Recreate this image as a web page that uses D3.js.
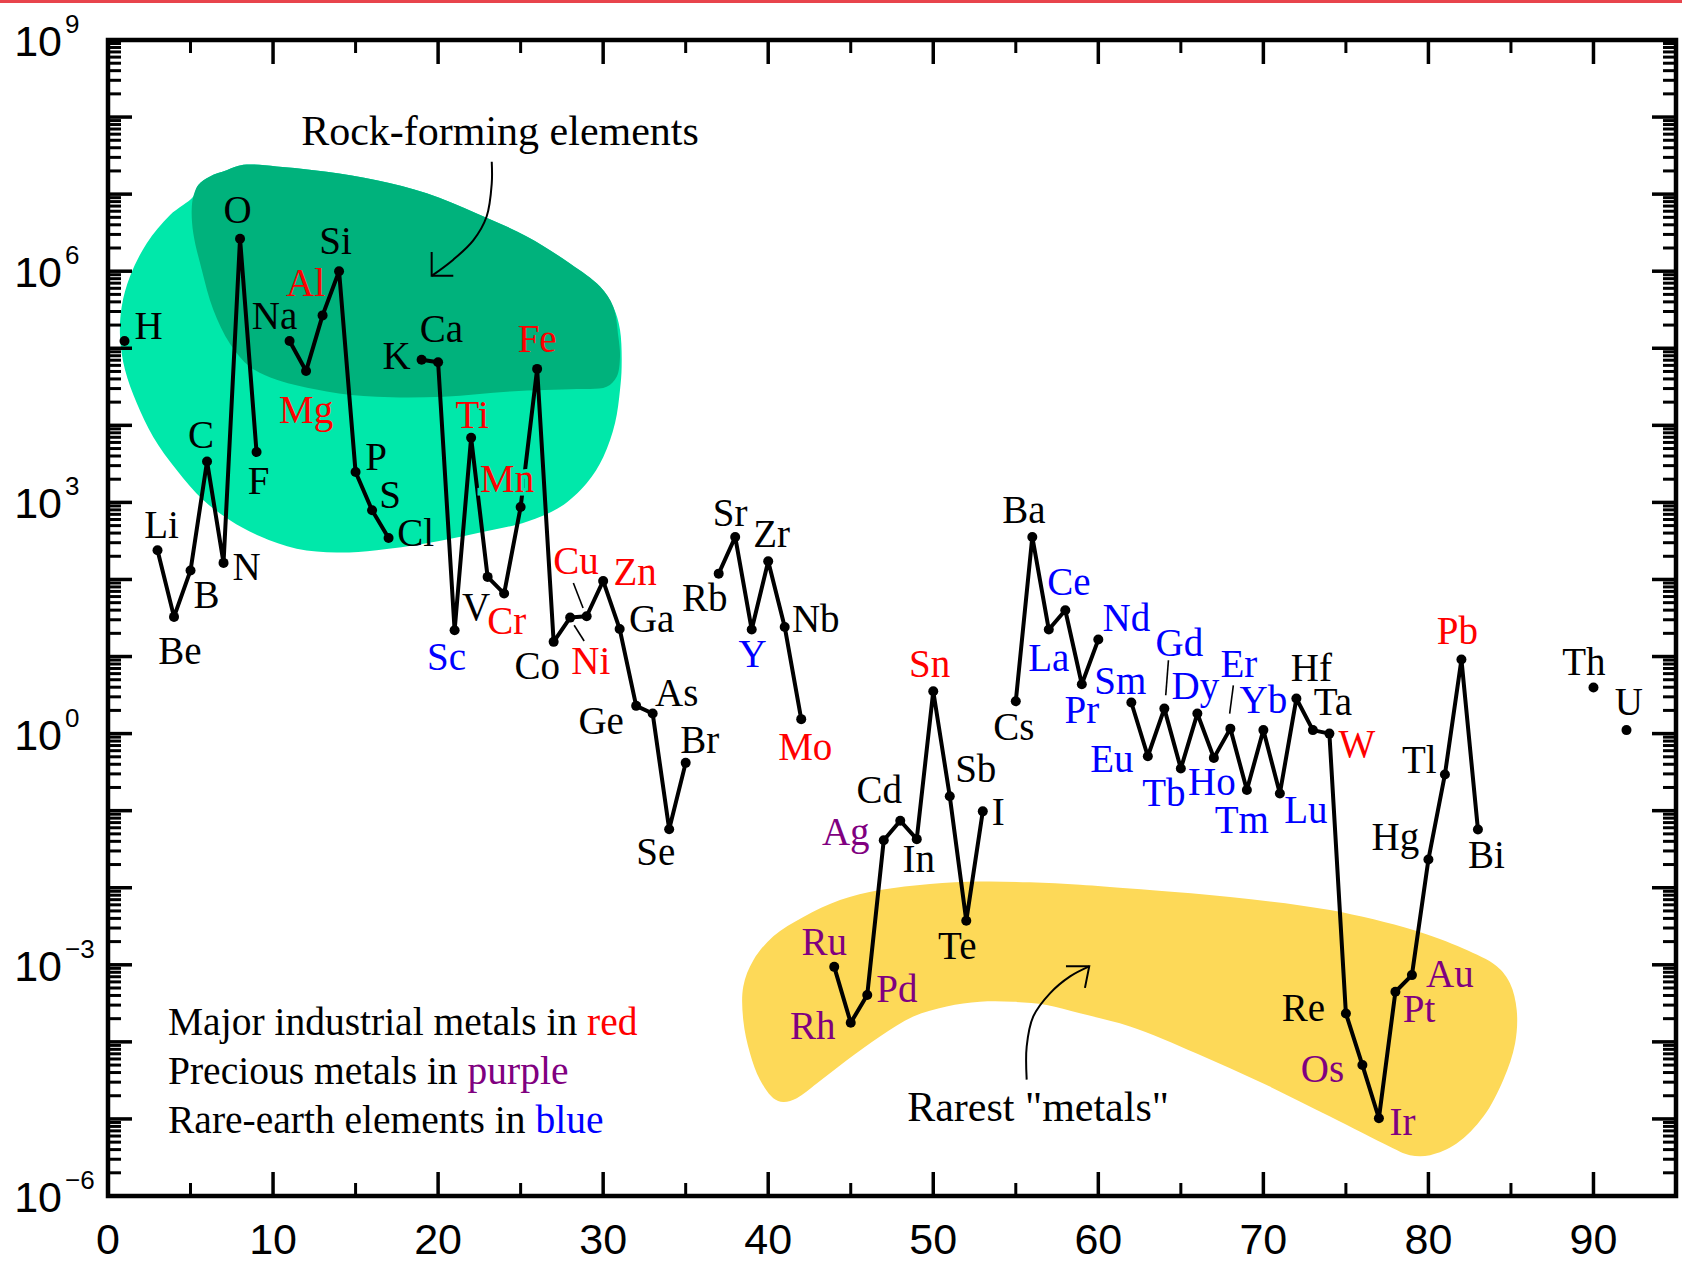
<!DOCTYPE html>
<html>
<head>
<meta charset="utf-8">
<script src="https://cdn.jsdelivr.net/npm/d3@7"></script>
<style>
  html, body { margin: 0; padding: 0; background: #fff; }
  svg { display: block; }
</style>
</head>
<body>
<svg id="chart" width="1682" height="1264"></svg>
<script>
// Abundance of the elements in Earth's upper continental crust,
// atoms per 10^6 atoms of Si, plotted against atomic number.
const symbols = [
  "H","Li","Be","B","C","N","O","F",
  "Na","Mg","Al","Si","P","S","Cl",
  "K","Ca","Sc","Ti","V","Cr","Mn","Fe","Co","Ni","Cu","Zn","Ga","Ge","As","Se","Br",
  "Rb","Sr","Y","Zr","Nb","Mo",
  "Ru","Rh","Pd","Ag","Cd","In","Sn","Sb","Te","I",
  "Cs","Ba","La","Ce","Pr","Nd",
  "Sm","Eu","Gd","Tb","Dy","Ho","Er","Tm","Yb","Lu","Hf","Ta","W","Re","Os","Ir","Pt","Au","Hg","Tl","Pb","Bi",
  "Th","U"
];
const atomicNumbers = [
  1,3,4,5,6,7,8,9,
  11,12,13,14,15,16,17,
  19,20,21,22,23,24,25,26,27,28,29,30,31,32,33,34,35,
  37,38,39,40,41,42,
  44,45,46,47,48,49,50,51,52,53,
  55,56,57,58,59,60,
  62,63,64,65,66,67,68,69,70,71,72,73,74,75,76,77,78,79,80,81,82,83,
  90,92
];
const abundances = [
  1.24e5, 239, 32.7, 131, 3.4e3, 164, 2.64e6, 4.5e3,
  1.24e5, 5.06e4, 2.67e5, 1e6, 2.48e3, 790, 346,
  7.1e4, 6.6e4, 21.9, 6.9e3, 108, 65.6, 871, 5.4e4, 15.5, 32, 33.3, 95.7, 22.8, 2.29, 1.82, 0.0575, 0.417,
  119, 356, 22.4, 172, 24.2, 1.54,
  9.4e-4, 1.77e-4, 4.05e-4, 0.0414, 0.074, 0.0427, 3.55, 0.154, 0.00372, 0.098,
  2.63, 356, 22.4, 39.8, 4.37, 16.6,
  2.53, 0.508, 2.11, 0.352, 1.82, 0.484, 1.16, 0.185, 1.11, 0.167, 2.85, 1.11, 1.0, 2.34e-4, 5.0e-5, 1.02e-5, 4.47e-4, 7.35e-4, 0.0233, 0.295, 9.14, 0.057,
  3.96, 1.11
];

const industrialMetals = ["Mg","Al","Ti","Cr","Mn","Fe","Ni","Cu","Zn","Mo","Sn","W","Pb"];
const preciousMetals = ["Ru","Rh","Pd","Ag","Os","Ir","Pt","Au"];
const rareEarths = ["Sc","Y","La","Ce","Pr","Nd","Sm","Eu","Gd","Tb","Dy","Ho","Er","Tm","Yb","Lu"];

const xTickValues = [0,10,20,30,40,50,60,70,80,90];
const xMinorTicks = [5,15,25,35,45,55,65,75,85];
const yLabelExponents = [-6,-3,0,3,6,9];

// Shaded regions and arrows, as [atomic number, log10 abundance] pairs.
const rockShell = [
  [5.17,6.97],[3.76,6.73],[2.34,6.36],[1.33,5.93],[0.83,5.54],[0.73,5.15],[1.03,4.72],[1.74,4.29],
  [2.74,3.85],[4.16,3.42],[5.77,3.03],[7.39,2.77],[9.21,2.56],[11.43,2.40],[13.86,2.35],[16.28,2.38],
  [19.31,2.47],[22.34,2.60],[25.37,2.75],[27.39,2.94],[29.00,3.25],[30.01,3.59],[30.72,4.03],
  [31.02,4.46],[31.12,4.76],[31.02,5.24],[30.61,5.54],[29.81,5.80],[27.99,6.10],[25.37,6.45],
  [22.34,6.75],[19.31,7.01],[16.28,7.18],[13.25,7.29],[10.22,7.36],[8.20,7.38],[7.19,7.31],
  [6.18,7.23],[5.47,7.12]
];
const rockCore = [
  [5.17,6.97],[5.47,7.12],[6.18,7.23],[7.19,7.31],[8.20,7.38],[10.22,7.36],[13.25,7.29],[16.28,7.18],
  [19.31,7.01],[22.34,6.75],[25.37,6.45],[27.99,6.10],[29.81,5.80],[30.61,5.54],[30.92,5.15],
  [31.02,4.89],[30.82,4.63],[30.21,4.50],[28.40,4.47],[24.36,4.44],[20.32,4.37],[16.28,4.37],
  [13.25,4.44],[10.22,4.59],[8.60,4.76],[7.39,5.06],[6.38,5.50],[5.68,6.02],[5.17,6.49],[5.07,6.79]
];
const rareBand = [
  [38.49,-3.28],[39.10,-2.94],[40.31,-2.63],[42.13,-2.38],[44.35,-2.16],[46.77,-2.03],[49.80,-1.95],
  [52.83,-1.92],[55.86,-1.93],[58.89,-1.96],[61.92,-2.01],[67.98,-2.12],[74.04,-2.29],[79.09,-2.55],
  [82.11,-2.79],[84.14,-3.02],[84.94,-3.24],[85.35,-3.59],[85.25,-4.02],[84.54,-4.49],[83.33,-4.97],
  [81.71,-5.32],[80.10,-5.47],[78.88,-5.47],[77.67,-5.36],[74.04,-4.97],[70.00,-4.54],[65.96,-4.15],
  [61.92,-3.80],[58.89,-3.63],[56.87,-3.52],[54.85,-3.48],[52.83,-3.48],[50.81,-3.54],[48.79,-3.67],
  [46.77,-3.93],[44.76,-4.24],[42.94,-4.54],[41.73,-4.73],[40.91,-4.78],[40.31,-4.73],[39.50,-4.49],
  [38.90,-4.15],[38.49,-3.72]
];
const rockArrow = [[23.25,7.42],[23.25,7.14],[22.94,6.71],[22.13,6.40],[20.92,6.15],[19.61,5.94]];
const rockArrowHead = [[19.61,6.25],[19.61,5.94],[20.92,5.94]];
const rareArrow = [[55.66,-4.49],[55.66,-4.06],[56.06,-3.67],[57.07,-3.37],[58.29,-3.15],[59.45,-3.02]];
const rareArrowHead = [[58.04,-3.02],[59.45,-3.02],[59.19,-3.30]];

// Label placement: [dx, dy] in px from each point (text centred, dy to baseline).
const labelOffsets = {
  H:[24,-2], Li:[4,-12], Be:[6,47], B:[16,38], C:[-6,-13], N:[23,17], O:[-2.5,-16], F:[2,42],
  Na:[-15,-12], Mg:[0,52], Al:[-17,-19], Si:[-3.6,-17], P:[20.6,-2], S:[18,-2], Cl:[27,8],
  K:[-25,9], Ca:[3.4,-20], Sc:[-8,40], Ti:[1,-10], V:[-11.5,43], Cr:[2.5,40], Mn:[-13.5,-15], Fe:[0,-17],
  Co:[-16.5,37], Ni:[20.7,56], Cu:[-10.7,-42], Zn:[32,4], Ga:[32,3], Ge:[-35,28], As:[24,-8],
  Se:[-13.4,36], Br:[14,-10], Rb:[-14,37], Sr:[-5,-11], Y:[1,37], Zr:[3.5,-14], Nb:[31,5], Mo:[4,41],
  Ru:[-10,-12], Rh:[-38,16], Pd:[29.6,7], Ag:[-38,5], Cd:[-21,-18], In:[2,33], Sn:[-3.6,-14],
  Sb:[26,-14], Te:[-9,38], I:[15.5,14], Cs:[-2,39], Ba:[-8.5,-14], La:[0,41], Ce:[3.6,-15], Pr:[0,39],
  Nd:[28,-9], Sm:[-11,-9], Eu:[-36,16], Gd:[15,-53], Tb:[-17,37], Dy:[-2,-15], Ho:[-2,37],
  Er:[8.5,-52], Tm:[-5,43], Yb:[0,-17], Lu:[26,29], Hf:[15,-18], Ta:[20,-15], W:[27.5,23],
  Re:[-42.6,8], Os:[-40,17], Ir:[23.6,17], Pt:[23.7,30], Au:[38,12], Hg:[-33,-9], Tl:[-25.6,-1],
  Pb:[-4,-16], Bi:[8.6,39], Th:[-9.5,-13], U:[2.4,-15]
};
// Labels that sit on top of a connecting line get a halo in the fill behind them.
const labelHalos = { Mn: "#00e8aa" };
// Short leader strokes tying crowded labels to their points.
const leaderLines = {
  Cu:[[-13.3,-33.3],[-3.6,-8.3]],
  Ni:[[4,7.7],[14,23.4]],
  Gd:[[4.1,-48.3],[1.4,-13.3]],
  Er:[[3,-43.3],[-0.7,-15]]
};

const legendLines = [
  ["Major industrial metals in ", "red", "#ff0000"],
  ["Precious metals in ", "purple", "#800080"],
  ["Rare-earth elements in ", "blue", "#0000ff"]
];

const serif = "'Liberation Serif','Times New Roman',Times,serif";
const sans = "'Liberation Sans',Arial,Helvetica,sans-serif";

const svg = d3.select("#chart");
const plot = { left: 108, right: 1676, top: 40, bottom: 1196 };

const x = d3.scaleLinear().domain([0, 95]).range([plot.left, plot.right]);
const y = d3.scaleLog().domain([1e-6, 1e9]).range([plot.bottom, plot.top]);
const pt = ([z, e]) => [x(z), y(Math.pow(10, e))];

svg.append("rect").attr("x", 0).attr("y", 0).attr("width", 1682).attr("height", 3).attr("fill", "#e8444c");

// Shaded regions
const closed = d3.line().curve(d3.curveCatmullRomClosed.alpha(0.5));
svg.append("path").attr("d", closed(rockShell.map(pt))).attr("fill", "#00e8aa");
svg.append("path").attr("d", closed(rockCore.map(pt))).attr("fill", "#00b27c");
svg.append("path").attr("d", closed(rareBand.map(pt))).attr("fill", "#fdd958");

// Annotation arrows and captions
const open = d3.line().curve(d3.curveCatmullRom.alpha(0.5));
const straight = d3.line();
[[rockArrow, rockArrowHead], [rareArrow, rareArrowHead]].forEach(([body, head]) => {
  svg.append("path").attr("d", open(body.map(pt))).attr("fill", "none")
    .attr("stroke", "#000").attr("stroke-width", 2);
  svg.append("path").attr("d", straight(head.map(pt))).attr("fill", "none")
    .attr("stroke", "#000").attr("stroke-width", 2);
});
svg.append("text").attr("x", x(23.75)).attr("y", y(Math.pow(10, 7.638)))
  .attr("text-anchor", "middle").attr("font-family", serif).attr("font-size", 42)
  .text("Rock-forming elements");
svg.append("text").attr("x", x(56.35)).attr("y", y(Math.pow(10, -5.026)))
  .attr("text-anchor", "middle").attr("font-family", serif).attr("font-size", 42)
  .text("Rarest \"metals\"");

// Frame and inward ticks
const axisG = svg.append("g").attr("stroke", "#000").attr("stroke-linecap", "butt");
const tickLine = (x1, y1, x2, y2, w) => axisG.append("line")
  .attr("x1", x1).attr("y1", y1).attr("x2", x2).attr("y2", y2).attr("stroke-width", w);
const majorLen = 24, minorLen = 13;
for (let e = -6; e <= 9; e++) {
  const yy = y(Math.pow(10, e));
  tickLine(plot.left, yy, plot.left + majorLen, yy, 3.5);
  tickLine(plot.right, yy, plot.right - majorLen, yy, 3.5);
  if (e < 9) {
    for (let k = 2; k <= 9; k++) {
      const ym = y(k * Math.pow(10, e));
      tickLine(plot.left, ym, plot.left + minorLen, ym, 3);
      tickLine(plot.right, ym, plot.right - minorLen, ym, 3);
    }
  }
}
xTickValues.forEach(v => {
  tickLine(x(v), plot.bottom, x(v), plot.bottom - majorLen, 3.5);
  tickLine(x(v), plot.top, x(v), plot.top + majorLen, 3.5);
});
xMinorTicks.forEach(v => {
  tickLine(x(v), plot.bottom, x(v), plot.bottom - minorLen, 3);
  tickLine(x(v), plot.top, x(v), plot.top + minorLen, 3);
});
svg.append("rect").attr("x", plot.left).attr("y", plot.top)
  .attr("width", plot.right - plot.left).attr("height", plot.bottom - plot.top)
  .attr("fill", "none").attr("stroke", "#000").attr("stroke-width", 4.5);

// Tick labels
xTickValues.forEach(v => {
  svg.append("text").attr("x", x(v)).attr("y", plot.bottom + 58)
    .attr("text-anchor", "middle").attr("font-family", sans).attr("font-size", 43)
    .text(v);
});
yLabelExponents.forEach(e => {
  const yy = y(Math.pow(10, e));
  svg.append("text").attr("x", 62).attr("y", yy + 16)
    .attr("text-anchor", "end").attr("font-family", sans).attr("font-size", 43)
    .text("10");
  svg.append("text").attr("x", 65).attr("y", yy - 7)
    .attr("text-anchor", "start").attr("font-family", sans).attr("font-size", 26)
    .text(e < 0 ? "\u2212" + Math.abs(e) : String(e));
});

// Data: connected runs of consecutive atomic numbers
const records = symbols.map((s, i) => ({ s, z: atomicNumbers[i], v: abundances[i] }));
const runs = [];
records.forEach((d, i) => {
  if (i === 0 || d.z !== records[i - 1].z + 1) runs.push([]);
  runs[runs.length - 1].push(d);
});
const line = d3.line().x(d => x(d.z)).y(d => y(d.v));
svg.append("g").selectAll("path").data(runs.filter(r => r.length > 1)).join("path")
  .attr("d", line).attr("fill", "none").attr("stroke", "#000")
  .attr("stroke-width", 4).attr("stroke-linejoin", "round");
svg.append("g").selectAll("circle").data(records).join("circle")
  .attr("cx", d => x(d.z)).attr("cy", d => y(d.v)).attr("r", 5).attr("fill", "#000");

// Leader strokes
Object.entries(leaderLines).forEach(([s, [[ax, ay], [bx, by]]]) => {
  const d = records.find(r => r.s === s);
  const px = x(d.z), py = y(d.v);
  svg.append("line").attr("x1", px + ax).attr("y1", py + ay).attr("x2", px + bx).attr("y2", py + by)
    .attr("stroke", "#000").attr("stroke-width", 1.6);
});

// Element labels
const colourOf = s => industrialMetals.includes(s) ? "#ff0000"
  : preciousMetals.includes(s) ? "#800080"
  : rareEarths.includes(s) ? "#0000ff" : "#000";
svg.append("g").selectAll("text").data(records).join("text")
  .attr("x", d => x(d.z) + labelOffsets[d.s][0])
  .attr("y", d => y(d.v) + labelOffsets[d.s][1])
  .attr("text-anchor", "middle").attr("font-family", serif).attr("font-size", 39)
  .attr("fill", d => colourOf(d.s))
  .attr("stroke", d => labelHalos[d.s] || "none")
  .attr("stroke-width", d => labelHalos[d.s] ? 7 : 0)
  .attr("paint-order", "stroke")
  .text(d => d.s);

// Colour key
legendLines.forEach(([lead, word, colour], i) => {
  const t = svg.append("text").attr("x", plot.left + 60).attr("y", 1035 + i * 49)
    .attr("font-family", serif).attr("font-size", 39.5);
  t.append("tspan").attr("fill", "#000").text(lead);
  t.append("tspan").attr("fill", colour).text(word);
});
</script>
</body>
</html>
